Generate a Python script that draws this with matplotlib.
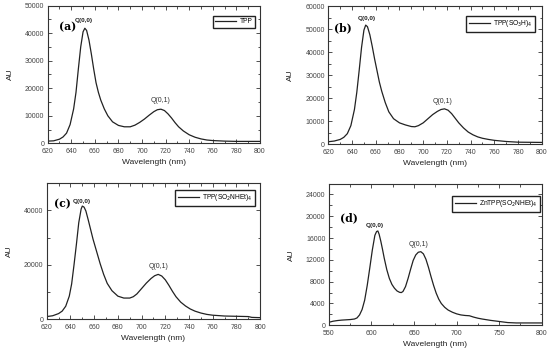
import matplotlib
matplotlib.use('Agg')
import matplotlib.pyplot as plt
from matplotlib.ticker import MultipleLocator

plt.rcParams['font.family'] = ['Liberation Sans', 'DejaVu Sans']

# (a) TPP
wl_a = [620, 625, 630, 633, 636, 639, 642, 644, 646, 648, 650, 651.5, 653, 655, 657, 659, 661,
        663, 665, 668, 671, 675, 680, 685, 690, 694, 698, 702, 706, 710, 713, 716, 719, 722,
        725, 728, 731, 735, 740, 745, 750, 755, 760, 770, 780, 800]
au_a = [800, 900, 1500, 2300, 3700, 6800, 12500, 18500, 27000, 35000, 40500, 41800, 41000,
        37500, 32500, 27000, 22000, 18500, 15700, 12500, 10000, 7800, 6500, 6000, 6000, 6600,
        7600, 8800, 10200, 11500, 12200, 12400, 11900, 10700, 9200, 7500, 6000, 4500, 3100,
        2200, 1600, 1200, 1000, 800, 700, 700]

# (b) TPP(SO3H)4
wl_b = [620, 625, 630, 633, 636, 639, 642, 644, 646, 648, 650, 651.5, 653, 655, 657, 659, 661,
        663, 665, 668, 671, 675, 680, 685, 690, 693, 696, 700, 704, 708, 712, 715, 718, 721,
        724, 727, 730, 734, 738, 742, 746, 750, 755, 760, 770, 780, 800]
au_b = [1000, 1300, 2000, 2900, 4500, 8000, 15000, 22500, 32000, 42000, 49500, 51700, 51000,
        47500, 42500, 37000, 32000, 27000, 23000, 18000, 14000, 11000, 9200, 8300, 7600, 7500,
        8000, 9200, 11000, 12800, 14200, 15000, 15300, 14700, 13200, 11200, 9200, 7000, 5200,
        4000, 3100, 2500, 2000, 1600, 1100, 800, 700]

# (c) TPP(SO2NHEt)4
wl_c = [620, 625, 630, 633, 636, 639, 641, 643, 645, 647, 649, 650, 651.5, 653, 655, 657, 659,
        661, 663, 665, 668, 671, 675, 680, 685, 690, 693, 696, 700, 704, 708, 711, 714, 717,
        720, 723, 726, 729, 733, 737, 741, 745, 750, 755, 760, 770, 780, 790, 793, 800]
au_c = [1000, 1300, 2100, 3000, 4800, 8500, 13000, 20000, 27500, 35500, 40500, 41600, 41200,
        39800, 36500, 33000, 29500, 26500, 23500, 20500, 16500, 13200, 10500, 8500, 7800, 7800,
        8300, 9300, 11300, 13300, 15000, 16000, 16500, 15900, 14500, 12500, 10300, 8300, 6300,
        4900, 3800, 3000, 2300, 1800, 1500, 1200, 1100, 1000, 700, 600]

# (d) ZnTPP(SO2NHEt)4
wl_d = [550, 555, 560, 565, 570, 575, 580, 583, 586, 589, 592, 595, 598, 601, 604, 606, 607.5,
        609, 611, 613, 615, 618, 621, 624, 627, 630, 633, 635, 637, 640, 643, 646, 649, 652,
        655, 658, 661, 664, 667, 670, 673, 676, 679, 682, 686, 690, 695, 700, 705, 710, 715,
        720, 725, 730, 740, 750, 760, 770, 800]
au_d = [550, 750, 870, 950, 1000, 1050, 1150, 1350, 1900, 2900, 4600, 7300, 10500, 13800,
        16500, 17200, 17300, 16700, 15400, 13900, 12300, 10200, 8600, 7500, 6800, 6300, 6050,
        6000, 6200, 7100, 8600, 10300, 11900, 12900, 13400, 13500, 13100, 12100, 10600, 8900,
        7300, 5900, 4800, 4000, 3300, 2800, 2400, 2100, 1900, 1800, 1750, 1500, 1300, 1150,
        900, 700, 500, 430, 430]

panels = [
    dict(rect=[0.0867, 0.594, 0.386, 0.390], x=wl_a, y=au_a, name='TPP',
         xlim=(620, 800), xstep=20, ylim=(0, 50000), ystep=10000, ymin=5000,
         tag='(a)', tagpos=(629.5, 42500), q00=(650.5, 43600), q01=(715.5, 14300),
         leg=(0.976, 0.925)),
    dict(rect=[0.597, 0.592, 0.388, 0.391], x=wl_b, y=au_b, name='TPP(SO$_3$H)$_4$',
         xlim=(620, 800), xstep=20, ylim=(0, 60000), ystep=10000, ymin=5000,
         tag='(b)', tagpos=(625, 50500), q00=(652.3, 53600), q01=(716.5, 17100),
         leg=(0.969, 0.928)),
    dict(rect=[0.085, 0.0955, 0.388, 0.3855], x=wl_c, y=au_c, name='TPP(SO$_2$NHEt)$_4$',
         xlim=(620, 800), xstep=20, ylim=(0, 50000), ystep=20000, ymin=10000,
         tag='(c)', tagpos=(626, 42600), q00=(649.8, 42500), q01=(714, 18000),
         leg=(0.977, 0.951)),
    dict(rect=[0.598, 0.0785, 0.387, 0.400], x=wl_d, y=au_d, name='ZnTPP(SO$_2$NHEt)$_4$',
         xlim=(550, 800), xstep=50, ylim=(0, 25900), ystep=4000, ymin=2000,
         tag='(d)', tagpos=(563, 19800), q00=(604, 17900), q01=(655.4, 14200),
         leg=(0.992, 0.915)),
]

fig = plt.figure(figsize=(5.5, 3.53), dpi=100)

for p in panels:
    ax = fig.add_axes(p['rect'])
    ax.plot(p['x'], p['y'], color='#222222', lw=0.9, label=p['name'])
    ax.set_xlim(*p['xlim'])
    ax.set_ylim(*p['ylim'])
    ax.xaxis.set_major_locator(MultipleLocator(p['xstep']))
    ax.xaxis.set_minor_locator(MultipleLocator(p['xstep'] / 2))
    ax.yaxis.set_major_locator(MultipleLocator(p['ystep']))
    ax.yaxis.set_minor_locator(MultipleLocator(p['ymin']))
    ax.tick_params(which='both', direction='in', top=True, right=True,
                   labelsize=5, width=0.6, colors='#333333', labelcolor='#444444')
    ax.tick_params(axis='x', pad=3.5)
    ax.tick_params(axis='y', pad=2.5)
    ax.tick_params(which='major', length=3)
    ax.tick_params(which='minor', length=1.8)
    for s in ax.spines.values():
        s.set_linewidth(0.8)
        s.set_color('#333333')
    ax.set_xlabel('Wavelength (nm)', fontsize=6, labelpad=3, color='#222222')
    ax.set_ylabel('AU', fontsize=6, labelpad=8, color='#222222')
    ax.text(p['tagpos'][0], p['tagpos'][1], p['tag'], fontsize=7.8, fontweight='bold',
            family='DejaVu Serif', va='center', ha='left')
    ax.text(p['q00'][0], p['q00'][1], 'Q(0,0)', fontsize=4.6, fontweight='bold',
            ha='center', va='bottom', color='#222222')
    ax.text(p['q01'][0], p['q01'][1], 'Q(0,1)', fontsize=5, ha='center', va='bottom',
            color='#333333')
    ax.legend(loc='upper right', bbox_to_anchor=p['leg'], fontsize=4.8, frameon=True,
              fancybox=False, edgecolor='#222222', framealpha=1, handlelength=3.2,
              borderpad=0.35, handletextpad=0.5, borderaxespad=0)

fig.savefig('out.png', dpi=100)
